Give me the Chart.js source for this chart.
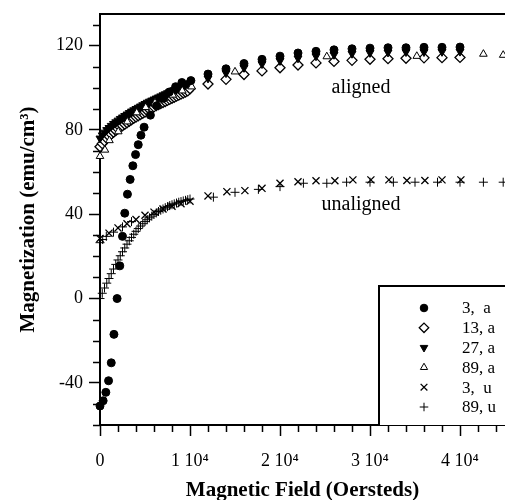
<!DOCTYPE html>
<html>
<head>
<meta charset="utf-8">
<script src="https://cdn.jsdelivr.net/npm/chart.js@4.4.1/dist/chart.umd.min.js"></script>
<style>
  html, body { margin: 0; padding: 0; background: #fff; }
  #wrap { width: 505px; height: 500px; position: relative; }
</style>
</head>
<body>
<div id="wrap"><canvas id="c" width="505" height="500"></canvas></div>
<script>
// ---------- DATA ----------
const xTickValues = [0, 10000, 20000, 30000, 40000];
const yTickValues = [-40, 0, 40, 80, 120];

// 3, a  (filled circles)
const field3a = [0, 350, 650, 950, 1250, 1550, 1900, 2200, 2500, 2750, 3050, 3350, 3650, 3950, 4250, 4550, 4900, 5600, 6300, 7000, 7700, 8400, 9100, 10100,
  12000, 14000, 16000, 18000, 20000, 22000, 24000, 26000, 28000, 30000, 32000, 34000, 36000, 38000, 40000];
const mag3a = [-51, -48.5, -44.5, -39, -30.5, -17, 0, 15.5, 29.5, 40.5, 49.5, 56.5, 63, 68.3, 73, 77.5, 81.3, 87, 91.5, 95, 98, 100.5, 102.5, 103.4,
  106.5, 109, 111.5, 113.5, 115, 116.5, 117.3, 118, 118.5, 118.8, 119, 119, 119.2, 119.2, 119.3];

// 13, a  (open diamonds)
const field13a = [0, 250, 500, 750, 1000, 1250, 1500, 1750, 2000, 2250, 2500, 2750, 3000, 3250, 3500, 3750, 4000, 4250, 4500, 4750, 5000,
  5250, 5500, 5750, 6000, 6250, 6500, 6750, 7000, 7250, 7500, 7750, 8000, 8250, 8500, 8750, 9000, 9250, 9500, 9750, 10000,
  12000, 14000, 16000, 18000, 20000, 22000, 24000, 26000, 28000, 30000, 32000, 34000, 36000, 38000, 40000];
const mag13a = [72, 73.5, 74.8, 76, 77, 78, 78.9, 79.7, 80.5, 81.3, 82, 82.7, 83.4, 84.1, 84.8, 85.5, 86.1, 86.7, 87.3, 87.9, 88.5,
  89.1, 89.7, 90.3, 90.9, 91.5, 92, 92.5, 93, 93.5, 94, 94.5, 95, 95.5, 96, 96.5, 97, 97.5, 98, 98.5, 99.5,
  101.8, 104, 106.3, 108, 109.5, 110.8, 111.8, 112.5, 113, 113.5, 113.8, 114, 114.2, 114.3, 114.4];

// 27, a  (filled down triangles)
const field27a = [0, 250, 500, 750, 1000, 1250, 1500, 1750, 2000, 2250, 2500, 2750, 3000, 3250, 3500, 3750, 4000, 4250, 4500, 4750, 5000,
  5250, 5500, 5750, 6000, 6250, 6500, 6750, 7000, 7250, 7500, 7750, 8000, 8250, 8500, 8750, 9000, 9250, 9500, 9750, 10000,
  12000, 14000, 16000, 18000, 20000, 22000, 24000, 26000, 28000, 30000, 32000, 34000, 36000, 38000, 40000];
const mag27a = [76, 77.5, 78.8, 80, 81, 82, 82.9, 83.7, 84.5, 85.3, 86, 86.7, 87.4, 88.1, 88.8, 89.4, 90, 90.6, 91.2, 91.8, 92.4,
  93, 93.5, 94, 94.5, 95, 95.5, 96, 96.5, 97, 97.5, 98, 98.5, 99, 99.4, 99.8, 100.3, 100.8, 101.3, 101.8, 102.2,
  104.5, 107, 109.5, 111.3, 112.8, 114, 115, 115.7, 116.2, 116.6, 116.8, 117, 117, 117.1, 117.2];

// 89, a  (open triangles)
const field89a = [0, 550, 1050, 2030, 3030, 4080, 5080, 6110, 7110, 8080, 9140, 10190, 15000, 25200, 35200, 42600, 44800];
const mag89a = [67.5, 70.5, 75, 79.2, 83.9, 88.2, 90.7, 92.9, 95, 96.6, 98.6, 100.5, 107.6, 114.8, 115, 116, 115.5];

// 3, u  (crosses x)
const field3u = [0, 1000, 2000, 3000, 4000, 5000, 6000, 7000, 8000, 9000, 10000, 12000, 14100, 16100, 18000, 20000, 22000, 24000,
  26100, 28100, 30100, 32100, 34100, 36100, 38000, 40100];
const mag3u = [28.5, 31, 33.5, 35.5, 37.5, 39.5, 41, 42.5, 43.8, 45, 46.2, 48.7, 50.7, 51.2, 52.3, 54.7, 55.4, 55.9,
  55.9, 56.3, 56.3, 56.3, 56, 56, 56.3, 56.3];

// 89, u  (plus signs)
const field89u = [0, 250, 500, 750, 1000, 1250, 1500, 1750, 2000, 2250, 2500, 2750, 3000, 3250, 3500, 3750, 4000, 4250, 4500, 4750, 5000,
  5250, 5500, 5750, 6000, 6250, 6500, 6750, 7000, 7250, 7500, 7750, 8000, 8250, 8500, 8750, 9000, 9250, 9500, 9750, 10000,
  0, 300, 700, 1500, 2500, 3500,
  12600, 15000, 17600, 20000, 22600, 25200, 27400, 30000, 32600, 35000, 37500, 40000, 42600, 44800];
const mag89u = [0, 2.5, 5, 7.3, 9.5, 11.8, 14, 16.2, 18.3, 20.3, 22.2, 24, 25.8, 27.4, 29, 30.5, 31.9, 33.2, 34.4, 35.5, 36.5,
  37.4, 38.3, 39.1, 39.9, 40.6, 41.3, 41.9, 42.5, 43.1, 43.6, 44.1, 44.5, 44.9, 45.3, 45.7, 46, 46.3, 46.6, 46.9, 47.2,
  26.5, 28, 29.5, 31.5, 34, 36.5,
  48.1, 50.4, 51.8, 53.1, 54.7, 54.7, 55.2, 55.2, 55.2, 55.2, 55.2, 55.2, 55.2, 55.2];

const seriesLabels = ['3,  a', '13, a', '27, a', '89, a', '3,  u', '89, u'];
const annotationTexts = [
  { text: 'aligned', x: 29000, y: 100.2 },
  { text: 'unaligned', x: 29000, y: 44.4 }
];

// ---------- helpers ----------
const pts = (xs, ys) => xs.map((x, i) => ({ x: x, y: ys[i] }));
const SERIF = "'Liberation Serif', 'Times New Roman', serif";

const styles = [
  { pointStyle: 'circle', radius: 4, bg: '#000', bw: 1, rot: 0 },
  { pointStyle: 'rectRot', radius: 5, bg: '#fff', bw: 1.3, rot: 0 },
  { pointStyle: 'triangle', radius: 4.6, bg: '#000', bw: 1, rot: 180 },
  { pointStyle: 'triangle', radius: 4.4, bg: '#fff', bw: 1, rot: 0 },
  { pointStyle: 'crossRot', radius: 5, bg: '#000', bw: 1.3, rot: 0 },
  { pointStyle: 'cross', radius: 4.5, bg: '#000', bw: 1, rot: 0 }
];

const dataSets = [
  pts(field3a, mag3a), pts(field13a, mag13a), pts(field27a, mag27a),
  pts(field89a, mag89a), pts(field3u, mag3u), pts(field89u, mag89u)
];
// drawing order: lower order is drawn on top
const drawOrder = [0, 3, 2, 1, 4, 5];

const datasets = dataSets.map((d, i) => ({
  label: seriesLabels[i],
  data: d,
  showLine: false,
  pointStyle: styles[i].pointStyle,
  pointRadius: styles[i].radius,
  pointHoverRadius: styles[i].radius,
  pointRotation: styles[i].rot,
  pointBackgroundColor: styles[i].bg,
  pointBorderColor: '#000',
  pointBorderWidth: styles[i].bw,
  backgroundColor: styles[i].bg,
  borderColor: '#000',
  order: drawOrder[i],
  clip: false
}));

const decor = {
  id: 'decor',
  afterDatasetsDraw(chart) {
    const ctx = chart.ctx;
    const xs = chart.scales.x, ys = chart.scales.y;
    ctx.save();
    ctx.fillStyle = '#000';
    ctx.font = '20px ' + SERIF;
    ctx.textAlign = 'center';
    ctx.textBaseline = 'middle';
    annotationTexts.forEach(a => {
      ctx.fillText(a.text, xs.getPixelForValue(a.x), ys.getPixelForValue(a.y));
    });
    ctx.restore();
  },
  afterDraw(chart) {
    const ctx = chart.ctx;
    const { left, right, top, bottom } = chart.chartArea;
    const xs = chart.scales.x, ys = chart.scales.y;
    ctx.save();
    ctx.strokeStyle = '#000';
    // top frame line
    ctx.lineWidth = 2;
    ctx.beginPath(); ctx.moveTo(left - 1, top); ctx.lineTo(right + 2, top); ctx.stroke();
    // minor ticks
    ctx.lineWidth = 1.5;
    ctx.beginPath();
    for (let v = ys.min; v <= ys.max; v += 10) {
      if (v % 40 === 0) continue;
      const py = Math.round(ys.getPixelForValue(v)) + 0.5;
      ctx.moveTo(left, py); ctx.lineTo(left - 7, py);
    }
    for (let v = 0; v <= xs.max; v += 2000) {
      if (v % 10000 === 0) continue;
      const px = Math.round(xs.getPixelForValue(v)) + 0.5;
      ctx.moveTo(px, bottom); ctx.lineTo(px, bottom + 7);
    }
    ctx.stroke();

    // legend box
    const bx = right - 126, by = bottom - 139;
    ctx.fillStyle = '#fff';
    ctx.fillRect(bx, by, right - bx + 2, bottom - by);
    ctx.lineWidth = 2;
    ctx.beginPath();
    ctx.moveTo(bx, bottom); ctx.lineTo(bx, by); ctx.lineTo(right + 2, by);
    ctx.stroke();
    ctx.font = '17px ' + SERIF;
    ctx.textAlign = 'left';
    ctx.textBaseline = 'middle';
    chart.data.datasets.forEach((ds, i) => {
      const cy = by + 22 + i * 19.8;
      const cx = bx + 45;
      ctx.save();
      ctx.fillStyle = ds.pointBackgroundColor;
      ctx.strokeStyle = '#000';
      ctx.lineWidth = ds.pointBorderWidth;
      Chart.helpers.drawPoint(ctx, { pointStyle: ds.pointStyle, radius: ds.pointRadius * 0.95, rotation: ds.pointRotation, borderWidth: ds.pointBorderWidth }, cx, cy);
      ctx.restore();
      ctx.fillStyle = '#000';
      ctx.fillText(ds.label, bx + 83, cy + 1);
    });
    ctx.restore();
  }
};

Chart.defaults.font.family = SERIF;
Chart.defaults.color = '#000';

new Chart(document.getElementById('c'), {
  type: 'scatter',
  data: { datasets: datasets },
  options: {
    responsive: false,
    animation: false,
    events: [],
    layout: { autoPadding: false, padding: { top: 14, left: 0, right: 0, bottom: 0 } },
    plugins: { legend: { display: false }, tooltip: { enabled: false } },
    scales: {
      x: {
        type: 'linear',
        min: 0, max: 45000,
        afterBuildTicks: s => { s.ticks = xTickValues.map(v => ({ value: v })); },
        afterFit: s => { s.height = 75; s.paddingLeft = 0; s.paddingRight = 0; },
        border: { display: true, color: '#000', width: 2 },
        grid: { display: true, drawOnChartArea: false, drawTicks: true, tickLength: 11, tickWidth: 1.5, tickColor: '#000' },
        ticks: {
          color: '#000', font: { size: 18, family: SERIF }, padding: 14, maxRotation: 0, autoSkip: false,
          callback: v => v === 0 ? '0' : (v / 10000) + ' 10\u2074'
        },
        title: {
          display: true, text: 'Magnetic Field (Oersteds)', color: '#000',
          font: { size: 21, weight: 'bold', family: SERIF, lineHeight: 1 },
          padding: { top: 0, bottom: -1 }
        }
      },
      y: {
        type: 'linear',
        min: -60, max: 135,
        afterBuildTicks: s => { s.ticks = yTickValues.map(v => ({ value: v })); },
        afterFit: s => { s.width = 100; s.paddingTop = 0; s.paddingBottom = 0; },
        border: { display: true, color: '#000', width: 2 },
        grid: { display: true, drawOnChartArea: false, drawTicks: true, tickLength: 11, tickWidth: 1.5, tickColor: '#000' },
        ticks: { color: '#000', font: { size: 18, family: SERIF }, padding: 6, autoSkip: false },
        title: {
          display: true, text: 'Magnetization (emu/cm\u00B3)', color: '#000',
          font: { size: 21, weight: 'bold', family: SERIF, lineHeight: 1 },
          padding: { top: 18, bottom: 0 }
        }
      }
    }
  },
  plugins: [decor]
});
</script>
</body>
</html>
